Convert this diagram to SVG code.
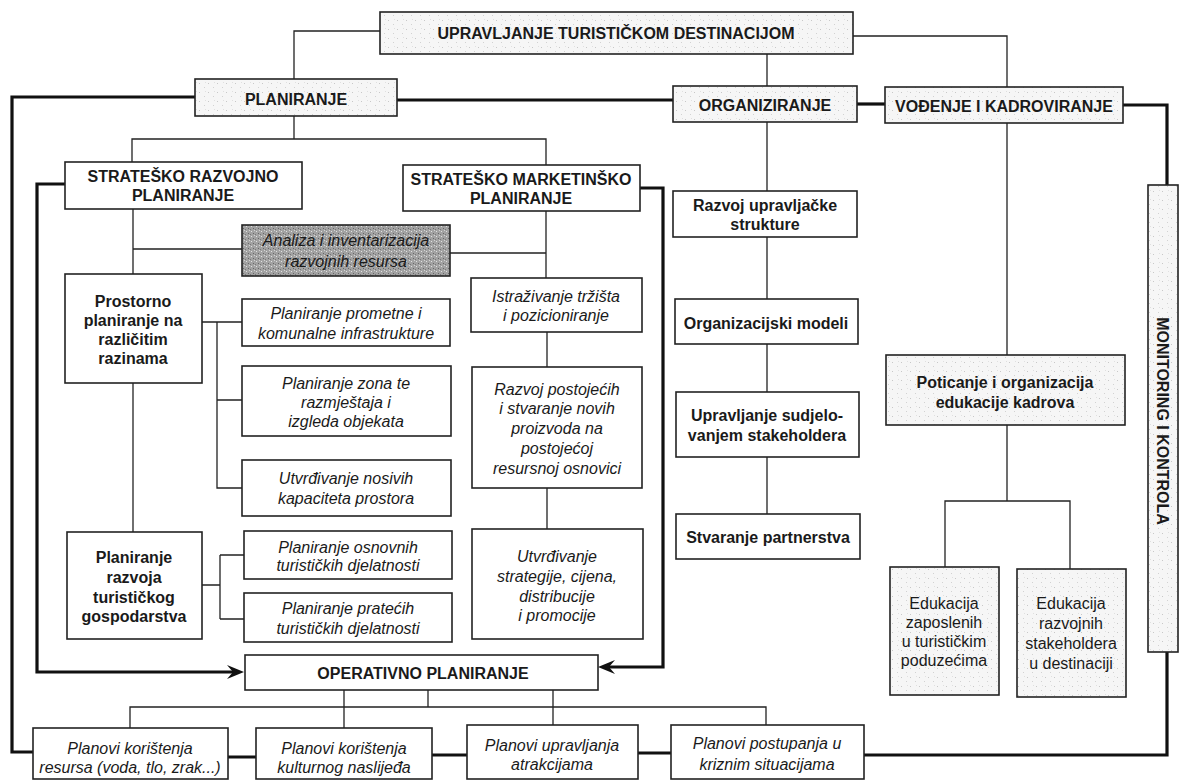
<svg xmlns="http://www.w3.org/2000/svg" width="1180" height="782" viewBox="0 0 1180 782">
<defs>
<pattern id="spk" width="9" height="9" patternUnits="userSpaceOnUse">
<rect width="9" height="9" fill="#f6f6f6"/>
<rect x="1" y="2" width="1" height="1" fill="#c8c8c8"/>
<rect x="6" y="6" width="1" height="1" fill="#d2d2d2"/>
<rect x="7" y="1" width="1" height="1" fill="#e0e0e0"/>
</pattern>
<pattern id="dark" width="5" height="5" patternUnits="userSpaceOnUse">
<rect width="5" height="5" fill="#a2a2a2"/>
<rect x="1" y="1" width="1" height="1" fill="#e2e2e2"/>
<rect x="3" y="3" width="1" height="1" fill="#666"/>
<rect x="4" y="0" width="1" height="1" fill="#d4d4d4"/>
<rect x="0" y="4" width="1" height="1" fill="#777"/>
</pattern>
<marker id="arr" markerUnits="userSpaceOnUse" markerWidth="18" markerHeight="16" refX="8" refY="8" orient="auto">
<path d="M0,1 L17,8 L0,15 L6,8 Z" fill="#111"/>
</marker>
</defs>
<style>
.box{fill:#fff;stroke:#222;stroke-width:1.6}
.gbox{fill:url(#spk);stroke:#222;stroke-width:1.6}
.dbox{fill:url(#dark);stroke:#222;stroke-width:1.6}
.t{font-family:"Liberation Sans",Arial,sans-serif;font-size:16px;fill:#1a1a1a;text-anchor:middle}
.b{font-weight:bold}
.i{font-style:italic}
.thin{fill:none;stroke:#222;stroke-width:1.3}
.thick{fill:none;stroke:#111;stroke-width:3.2}
</style>
<rect width="1180" height="782" fill="#fff"/>

<g id="connectors">
<path class="thin" d="M380,31 H294 V79"/>
<path class="thin" d="M853,36 H1007 V87"/>
<path class="thin" d="M767,54 V86"/>
<path class="thin" d="M294,116 V139"/>
<path class="thin" d="M132,162 V139 H546 V165"/>
<path class="thin" d="M767,122 V191 M767,237 V299 M767,344 V392 M767,457 V514"/>
<path class="thin" d="M133,209 V274 M133,249 H242"/>
<path class="thin" d="M133,383 V532"/>
<path class="thin" d="M546,211 V278 M450,253 H546"/>
<path class="thin" d="M547,332 V367 M547,488 V529"/>
<path class="thin" d="M202,322 H242 M217,322 V488 H242 M217,400 H242"/>
<path class="thin" d="M202,585 H220 M220,555 V619 M220,555 H244 M220,619 H244"/>
<path class="thin" d="M1007,123 V355 M1007,425 V501 M945,567 V501 H1070 V569"/>
<path class="thin" d="M344,690 V728 M428,690 V707 M553,690 V725 M130,728 V707 H766 V725"/>
<path class="thick" d="M195,97 H12 V752 H33"/>
<path class="thick" d="M396,100 H673"/>
<path class="thick" d="M857,104 H885"/>
<path class="thick" d="M1123,105 H1167 V185"/>
<path class="thick" d="M1167,652 V755 H864"/>
<path class="thick" d="M228,757 H256 M432,755 H467 M638,753 H671"/>
<path class="thick" d="M65,184 H37 V672 H235" marker-end="url(#arr)"/>
<path class="thick" d="M640,188 H663 V667 H607" marker-end="url(#arr)"/>
</g>

<g id="upravljanje"><rect class="gbox" x="380" y="12" width="473" height="42"/><text class="t b" x="616" y="39">UPRAVLJANJE TURISTIČKOM DESTINACIJOM</text></g>
<g id="planiranje"><rect class="gbox" x="195" y="79" width="202" height="37"/><text class="t b" x="296" y="105">PLANIRANJE</text></g>
<g id="organiziranje"><rect class="gbox" x="673" y="86" width="184" height="36"/><text class="t b" x="765" y="111">ORGANIZIRANJE</text></g>
<g id="vodenje"><rect class="gbox" x="885" y="87" width="238" height="36"/><text class="t b" x="1004" y="112">VOĐENJE I KADROVIRANJE</text></g>
<g id="monitoring"><rect class="gbox" x="1148" y="185" width="30" height="467"/><text class="t b" transform="translate(1157,421) rotate(90)" x="0" y="0">MONITORING I KONTROLA</text></g>

<g id="strateskoRazvojno"><rect class="box" x="65" y="162" width="237" height="47"/><text class="t b" x="183" y="182">STRATEŠKO RAZVOJNO</text><text class="t b" x="183" y="201">PLANIRANJE</text></g>
<g id="strateskoMarketinsko"><rect class="box" x="403" y="165" width="237" height="46"/><text class="t b" x="521" y="185">STRATEŠKO MARKETINŠKO</text><text class="t b" x="521" y="204">PLANIRANJE</text></g>
<g id="analiza"><rect class="dbox" x="242" y="225" width="208" height="51"/><text class="t i" x="346" y="246">Analiza i inventarizacija</text><text class="t i" x="346" y="267">razvojnih resursa</text></g>

<g id="prostorno"><rect class="box" x="65" y="274" width="137" height="109"/><text class="t b" x="133" y="307">Prostorno</text><text class="t b" x="133" y="326">planiranje na</text><text class="t b" x="133" y="345">različitim</text><text class="t b" x="133" y="364">razinama</text></g>
<g id="prometne"><rect class="box" x="242" y="299" width="208" height="47"/><text class="t i" x="346" y="319">Planiranje prometne i</text><text class="t i" x="346" y="339">komunalne infrastrukture</text></g>
<g id="zona"><rect class="box" x="242" y="366" width="209" height="70"/><text class="t i" x="346" y="389">Planiranje zona te</text><text class="t i" x="346" y="408">razmještaja i</text><text class="t i" x="346" y="427">izgleda objekata</text></g>
<g id="nosivih"><rect class="box" x="242" y="460" width="209" height="56"/><text class="t i" x="346" y="484">Utvrđivanje nosivih</text><text class="t i" x="346" y="504">kapaciteta prostora</text></g>
<g id="razvojaGospodarstva"><rect class="box" x="67" y="532" width="135" height="107"/><text class="t b" x="134" y="563">Planiranje</text><text class="t b" x="134" y="583">razvoja</text><text class="t b" x="134" y="603">turističkog</text><text class="t b" x="134" y="622">gospodarstva</text></g>
<g id="osnovnih"><rect class="box" x="244" y="531" width="208" height="48"/><text class="t i" x="348" y="553">Planiranje osnovnih</text><text class="t i" x="348" y="571">turističkih djelatnosti</text></g>
<g id="pratecih"><rect class="box" x="244" y="593" width="208" height="49"/><text class="t i" x="348" y="614">Planiranje pratećih</text><text class="t i" x="348" y="634">turističkih djelatnosti</text></g>

<g id="istrazivanje"><rect class="box" x="471" y="278" width="171" height="54"/><text class="t i" x="556" y="302">Istraživanje tržišta</text><text class="t i" x="556" y="321">i pozicioniranje</text></g>
<g id="postojecih"><rect class="box" x="472" y="367" width="170" height="121"/><text class="t i" x="557" y="395">Razvoj postojećih</text><text class="t i" x="557" y="414">i stvaranje novih</text><text class="t i" x="557" y="434">proizvoda na</text><text class="t i" x="557" y="454">postojećoj</text><text class="t i" x="557" y="474">resursnoj osnovici</text></g>
<g id="strategije"><rect class="box" x="472" y="529" width="171" height="110"/><text class="t i" x="557" y="562">Utvrđivanje</text><text class="t i" x="557" y="582">strategije, cijena,</text><text class="t i" x="557" y="602">distribucije</text><text class="t i" x="557" y="621">i promocije</text></g>

<g id="operativno"><rect class="box" x="245" y="655" width="353" height="35"/><text class="t b" x="423" y="679">OPERATIVNO PLANIRANJE</text></g>

<g id="upravljacke"><rect class="box" x="673" y="191" width="184" height="46"/><text class="t b" x="765" y="211">Razvoj upravljačke</text><text class="t b" x="765" y="230">strukture</text></g>
<g id="modeli"><rect class="box" x="675" y="299" width="183" height="45"/><text class="t b" x="766" y="329">Organizacijski modeli</text></g>
<g id="sudjelovanje"><rect class="box" x="676" y="392" width="183" height="65"/><text class="t b" x="767" y="421">Upravljanje sudjelo-</text><text class="t b" x="767" y="441">vanjem stakeholdera</text></g>
<g id="partnerstva"><rect class="box" x="676" y="514" width="184" height="45"/><text class="t b" x="768" y="543">Stvaranje partnerstva</text></g>

<g id="poticanje"><rect class="gbox" x="886" y="355" width="239" height="70"/><text class="t b" x="1005" y="388">Poticanje i organizacija</text><text class="t b" x="1005" y="408">edukacije kadrova</text></g>
<g id="edukacijaZaposlenih"><rect class="gbox" x="890" y="567" width="109" height="128"/><text class="t" x="944" y="609">Edukacija</text><text class="t" x="944" y="628">zaposlenih</text><text class="t" x="944" y="647">u turističkim</text><text class="t" x="944" y="666">poduzećima</text></g>
<g id="edukacijaRazvojnih"><rect class="gbox" x="1017" y="569" width="109" height="128"/><text class="t" x="1071" y="609">Edukacija</text><text class="t" x="1071" y="629">razvojnih</text><text class="t" x="1071" y="649">stakeholdera</text><text class="t" x="1071" y="669">u destinaciji</text></g>

<g id="planResursa"><rect class="box" x="33" y="728" width="195" height="51"/><text class="t i" x="130" y="754">Planovi korištenja</text><text class="t i" x="130" y="773">resursa (voda, tlo, zrak...)</text></g>
<g id="planNaslijeda"><rect class="box" x="256" y="728" width="176" height="51"/><text class="t i" x="344" y="754">Planovi korištenja</text><text class="t i" x="344" y="773">kulturnog naslijeđa</text></g>
<g id="planAtrakcija"><rect class="box" x="467" y="725" width="171" height="54"/><text class="t i" x="552" y="751">Planovi upravljanja</text><text class="t i" x="552" y="770">atrakcijama</text></g>
<g id="planKrizni"><rect class="box" x="671" y="725" width="193" height="54"/><text class="t i" x="767" y="749">Planovi postupanja u</text><text class="t i" x="767" y="770">kriznim situacijama</text></g>
</svg>
